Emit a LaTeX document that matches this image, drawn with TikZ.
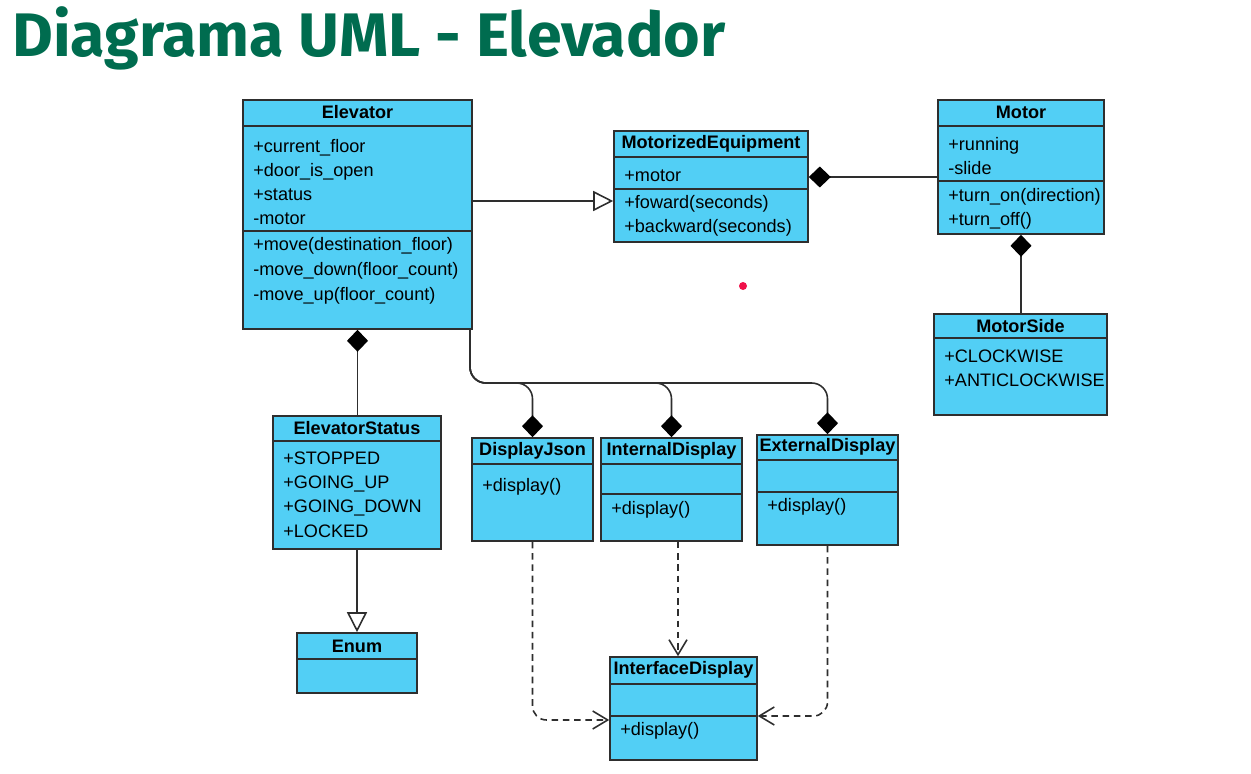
\documentclass[tikz,border=0pt]{standalone}
\usepackage{fontspec}
\setmainfont{Liberation Sans}
\newfontfamily\titlefont[FakeStretch=1.02]{Fira Sans}
\usetikzlibrary{arrows.meta,positioning,fit}
\definecolor{UmlCyan}{HTML}{52CFF5}
\definecolor{UmlEdge}{HTML}{2E2E2E}
\definecolor{TitleGreen}{HTML}{006C4F}
\definecolor{DotRed}{HTML}{F0114A}

\begin{document}
\begin{tikzpicture}[x=0.02cm,y=-0.02cm,
    cls/.style={draw=UmlEdge,fill=UmlCyan,line width=0.9pt,inner sep=0pt},
    hd/.style={inner sep=0pt,font=\fontsize{10.3}{12}\selectfont\bfseries},
    mb/.style={anchor=base west,inner sep=0pt,font=\fontsize{10.3}{12}\selectfont},
    sep/.style={draw=UmlEdge,line width=0.9pt},
    link/.style={draw=UmlEdge,line width=0.9pt},
    inherit/.style={link,-{Triangle[open,length=0.4cm,width=0.4cm,fill=white]}},
    comp/.style={link,{Diamond[length=0.44cm,width=0.42cm,color=black,fill=black]}-},
    dep/.style={link,dash pattern=on 3.8pt off 2.6pt,-{Straight Barb[length=0.3cm,width=0.36cm]}}
  ]
    \useasboundingbox (0,0) rectangle (1251,774);
    \node[anchor=west,inner sep=0pt,text=TitleGreen,font=\titlefont\bfseries\fontsize{35}{40}\selectfont] (title) at (12,38) {Diagrama UML - Elevador};

    % Elevator
    \node[cls,fit={(243,100) (472,329)}] (elev) {};
    \node[hd] (elevH) at (357.5,112) {Elevator};
    \draw[sep] (elev.west |- 0,126) -- (elev.east |- 0,126);
    \draw[sep] (elev.west |- 0,231) -- (elev.east |- 0,231);
    \foreach \t [count=\i] in {+current\_floor,+door\_is\_open,+status,-motor}
      \node[mb] (elevA\i) at (253,{152+24*(\i-1)}) {\t};
    \foreach \t [count=\i] in {+move(destination\_floor),-move\_down(floor\_count),-move\_up(floor\_count)}
      \node[mb] (elevM\i) at (253,{250+25*(\i-1)}) {\t};

    % MotorizedEquipment
    \node[cls,fit={(614,131) (808,242)}] (motEq) {};
    \node[hd] (motEqH) at (711,144) {MotorizedEquipment};
    \draw[sep] (motEq.west |- 0,157) -- (motEq.east |- 0,157);
    \draw[sep] (motEq.west |- 0,189) -- (motEq.east |- 0,189);
    \node[mb] (motEqA) at (624,181) {+motor};
    \node[mb] (motEqM1) at (624,208) {+foward(seconds)};
    \node[mb] (motEqM2) at (624,232) {+backward(seconds)};

    % Motor
    \node[cls,fit={(938,100) (1104,234)}] (motor) {};
    \node[hd] (motorH) at (1021,112) {Motor};
    \draw[sep] (motor.west |- 0,126) -- (motor.east |- 0,126);
    \draw[sep] (motor.west |- 0,181) -- (motor.east |- 0,181);
    \node[mb] (motorA1) at (948,150) {+running};
    \node[mb] (motorA2) at (948,174) {-slide};
    \node[mb] (motorM1) at (948,201) {+turn\_on(direction)};
    \node[mb] (motorM2) at (948,225) {+turn\_off()};

    % MotorSide
    \node[cls,fit={(934,314) (1107,415)}] (motSide) {};
    \node[hd] (motSideH) at (1020.5,326) {MotorSide};
    \draw[sep] (motSide.west |- 0,338) -- (motSide.east |- 0,338);
    \node[mb] (motSideA1) at (944,362) {+CLOCKWISE};
    \node[mb] (motSideA2) at (944,386) {+ANTICLOCKWISE};

    % ElevatorStatus
    \node[cls,fit={(273,416) (441,549)}] (elevStatus) {};
    \node[hd] (elevStatusH) at (357,428) {ElevatorStatus};
    \draw[sep] (elevStatus.west |- 0,441) -- (elevStatus.east |- 0,441);
    \foreach \t [count=\i] in {+STOPPED,+GOING\_UP,+GOING\_DOWN,+LOCKED}
      \node[mb] (elevStatusA\i) at (283,{464+24.4*(\i-1)}) {\t};

    % Enum
    \node[cls,fit={(297,633) (417,693)}] (enum) {};
    \node[hd] (enumH) at (357,646) {Enum};
    \draw[sep] (enum.west |- 0,659) -- (enum.east |- 0,659);

    % displays
    \node[cls,fit={(472,438) (593,541)}] (dispJson) {};
    \node[hd] (dispJsonH) at (532.5,451) {DisplayJson};
    \draw[sep] (dispJson.west |- 0,464) -- (dispJson.east |- 0,464);
    \node[mb] (dispJsonM) at (482,491) {+display()};

    \node[cls,fit={(601,438) (742,541)}] (intDisp) {};
    \node[hd] (intDispH) at (671.5,451) {InternalDisplay};
    \draw[sep] (intDisp.west |- 0,464) -- (intDisp.east |- 0,464);
    \draw[sep] (intDisp.west |- 0,494) -- (intDisp.east |- 0,494);
    \node[mb] (intDispM) at (611,514) {+display()};

    \node[cls,fit={(757,435) (898,545)}] (extDisp) {};
    \node[hd] (extDispH) at (827.5,447) {ExternalDisplay};
    \draw[sep] (extDisp.west |- 0,460) -- (extDisp.east |- 0,460);
    \draw[sep] (extDisp.west |- 0,492) -- (extDisp.east |- 0,492);
    \node[mb] (extDispM) at (767,511) {+display()};

    \node[cls,fit={(610,657) (757,760)}] (ifDisp) {};
    \node[hd] (ifDispH) at (683.5,670) {InterfaceDisplay};
    \draw[sep] (ifDisp.west |- 0,684) -- (ifDisp.east |- 0,684);
    \draw[sep] (ifDisp.west |- 0,716) -- (ifDisp.east |- 0,716);
    \node[mb] (ifDispM) at (620,735) {+display()};

    % connectors
    \draw[inherit] (elev.east |- 0,201) -- (motEq.west |- 0,201);
    \draw[comp] (motEq.east |- 0,177) -- (motor.west |- 0,177);
    \draw[comp] (motor.south) -- (motSide.north -| motor.south);
    \draw[comp] (elev.south) -- (elevStatus.north -| elev.south);
    \draw[inherit] (elevStatus.south) -- (enum.north);
    \coordinate (elevOut) at (470,329);
    \foreach \d in {dispJson,intDisp,extDisp}
      \draw[comp,rounded corners=9pt] (\d.north) -- (\d.north |- 0,383) -- (elevOut |- 0,383) -- (elevOut);
    \draw[dep,rounded corners=8pt] (dispJson.south) |- (ifDisp.west |- 0,720);
    \draw[dep] (intDisp.south -| 678,0) -- (ifDisp.north -| 678,0);
    \draw[dep,rounded corners=8pt] (extDisp.south) |- (ifDisp.east |- 0,716);

    \node[circle,fill=DotRed,inner sep=0pt,minimum size=0.16cm] (pointer) at (743,286) {};
  \end{tikzpicture}
\end{document}
